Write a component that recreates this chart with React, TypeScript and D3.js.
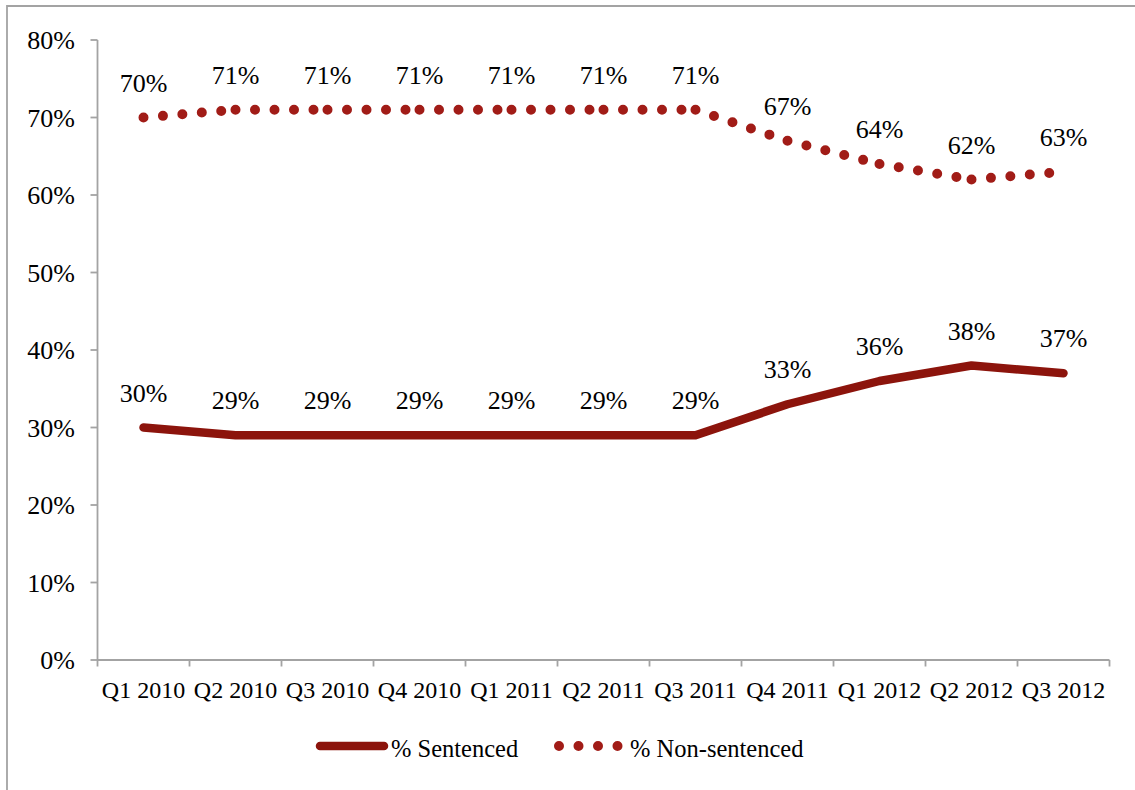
import React from "react";
import * as d3 from "d3";

const categories = ["Q1 2010", "Q2 2010", "Q3 2010", "Q4 2010", "Q1 2011", "Q2 2011", "Q3 2011", "Q4 2011", "Q1 2012", "Q2 2012", "Q3 2012"];
const sentenced = [0.30, 0.29, 0.29, 0.29, 0.29, 0.29, 0.29, 0.33, 0.36, 0.38, 0.37];
const nonSentenced = [0.70, 0.71, 0.71, 0.71, 0.71, 0.71, 0.71, 0.67, 0.64, 0.62, 0.63];
const yTicks = [0, 0.1, 0.2, 0.3, 0.4, 0.5, 0.6, 0.7, 0.8];
const seriesNames = ["% Sentenced", "% Non-sentenced"];

const W = 1135;
const H = 790;
const FONT = "'Liberation Serif', 'Times New Roman', serif";
const LINE_COLOR = "#8C140C";
const DOT_COLOR = "#A11C17";
const AXIS_COLOR = "#A3A3A3";

export default function App() {
  const x = d3.scaleBand<string>().domain(categories).range([97.5, 1109.5]).padding(0);
  const y = d3.scaleLinear().domain([0, 0.8]).range([660, 40]);
  const cx = (c: string) => (x(c) as number) + x.bandwidth() / 2;
  const fmt = d3.format(".0%");

  const line = d3
    .line<[number, number]>()
    .x((d) => d[0])
    .y((d) => d[1]);

  const sentPts: [number, number][] = sentenced.map((d, i) => [cx(categories[i]), y(d)]);
  const nonPts: [number, number][] = nonSentenced.map((d, i) => [cx(categories[i]), y(d)]);
  const sentPath = line(sentPts) || "";
  // one path per segment so the dot pattern restarts at each point (Excel style)
  const segs = d3.pairs(nonPts).map((p) => line(p as [number, number][]) || "");

  return (
    <svg width={W} height={H} style={{ position: "absolute", left: 0, top: 0, background: "#fff" }} fontFamily={FONT}>
      <path d={`M7,${H}V6H${W}`} fill="none" stroke={AXIS_COLOR} strokeWidth={1.8} />
      {/* y axis */}
      <line x1={97.5} x2={97.5} y1={y(0.8)} y2={y(0)} stroke={AXIS_COLOR} strokeWidth={1.8} />
      {yTicks.map((t) => (
        <g key={t}>
          <line x1={90.5} x2={97.5} y1={y(t)} y2={y(t)} stroke={AXIS_COLOR} strokeWidth={1.8} />
          <text x={75} y={y(t)} dy="0.35em" textAnchor="end" fontSize={26} fill="#000">
            {fmt(t)}
          </text>
        </g>
      ))}
      {/* x axis */}
      <line x1={97.5} x2={1109.5} y1={y(0)} y2={y(0)} stroke={AXIS_COLOR} strokeWidth={1.8} />
      {[...categories.map((c) => x(c) as number), 1109.5].map((v, i) => (
        <line key={i} x1={v} x2={v} y1={y(0)} y2={y(0) + 6.5} stroke={AXIS_COLOR} strokeWidth={1.8} />
      ))}
      {categories.map((c) => (
        <text key={c} x={cx(c)} y={698} textAnchor="middle" fontSize={24} fill="#000">
          {c}
        </text>
      ))}
      {/* series */}
      <path d={sentPath} fill="none" stroke={LINE_COLOR} strokeWidth={8.5} strokeLinecap="round" strokeLinejoin="round" />
      {segs.map((s, i) => (
        <path key={i} d={s} fill="none" stroke={DOT_COLOR} strokeWidth={10} strokeLinecap="round" strokeDasharray="0 19.5" />
      ))}
      {sentenced.map((v, i) => (
        <text key={"s" + i} x={cx(categories[i])} y={y(v) - 26} textAnchor="middle" fontSize={26} fill="#000">
          {fmt(v)}
        </text>
      ))}
      {nonSentenced.map((v, i) => (
        <text key={"n" + i} x={cx(categories[i])} y={y(v) - 26} textAnchor="middle" fontSize={26} fill="#000">
          {fmt(v)}
        </text>
      ))}
      {/* legend */}
      <line x1={320} x2={384} y1={746} y2={746} stroke={LINE_COLOR} strokeWidth={8.5} strokeLinecap="round" />
      <text x={391} y={757} fontSize={24.5} fill="#000">{seriesNames[0]}</text>
      <line x1={559} x2={618} y1={746} y2={746} stroke={DOT_COLOR} strokeWidth={10} strokeLinecap="round" strokeDasharray="0 19.5" />
      <text x={630} y={757} fontSize={24.5} fill="#000">{seriesNames[1]}</text>
    </svg>
  );
}
